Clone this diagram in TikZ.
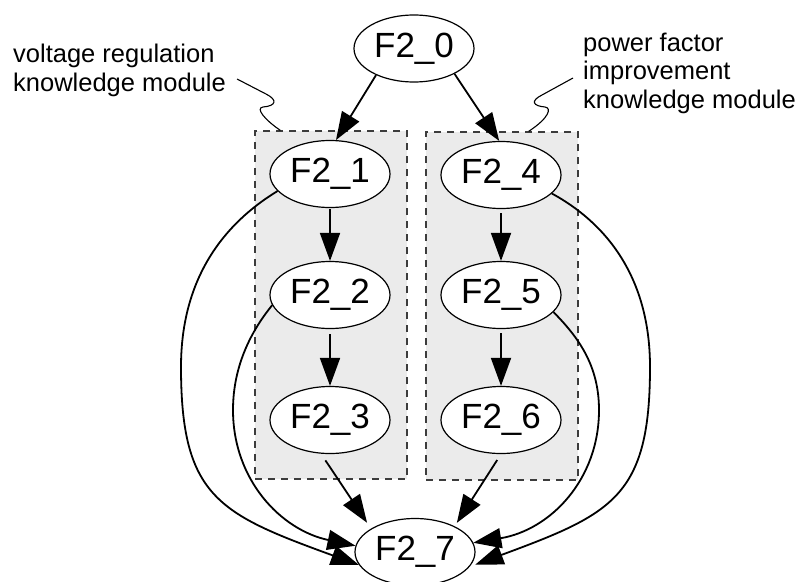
\documentclass[tikz,border=0pt]{standalone}
\usepackage{fontspec}
\setmainfont{Liberation Sans}
\usetikzlibrary{arrows.meta,shapes.geometric}
\definecolor{boxfill}{RGB}{235,235,235}
\definecolor{boxline}{RGB}{60,60,60}
\begin{document}
\begin{tikzpicture}[x=1pt,y=1pt,
  state/.style={ellipse, draw, line width=1.2pt, fill=white,
    minimum width=120pt, minimum height=67pt, inner sep=0pt,
    font=\fontsize{35}{40}\selectfont},
  module/.style={draw=boxline, fill=boxfill, dash pattern=on 7pt off 6pt,
    line width=1.3pt, minimum width=152pt, minimum height=348pt, inner sep=0pt},
  arr/.style={-{Triangle[length=28pt,width=20pt]}, line width=1.8pt},
  note/.style={align=left, inner sep=0pt, font=\fontsize{25.5}{28.5}\selectfont},
  squiggle/.style={line width=1.1pt}]

\useasboundingbox (0,0) rectangle (800,-581);

% shaded module frames
\node[module] (modA) at (331,-305) {};
\node[module] (modB) at (502,-306) {};

% states
\node[state] (f0) at (414,-48.5) {F2\_0};
\node[state] (f1) at (330,-174) {F2\_1};
\node[state] (f2) at (330,-295) {F2\_2};
\node[state] (f3) at (330,-420) {F2\_3};
\node[state] (f4) at (501,-175) {F2\_4};
\node[state] (f5) at (501,-295) {F2\_5};
\node[state] (f6) at (501,-420) {F2\_6};
\node[state] (f7) at (415,-552) {F2\_7};

% module labels (anchored at the baseline of their last line)
\node[note, anchor=base west] (noteA) at (13,-91) {voltage regulation\\knowledge module};
\node[note, anchor=base west] (noteB) at (583,-108.3) {power factor\\improvement\\knowledge module};

\coordinate (tailA) at (237,-79);
\coordinate (tailB) at (573,-78);
\draw[squiggle] (tailA) -- (266,-94) .. controls (278,-100) and (276,-106) .. (263,-107)
  .. controls (255,-108) and (265,-120) .. ([xshift=26pt]modA.north west);
\draw[squiggle] (tailB) -- (542,-95) .. controls (530,-101) and (533,-106) .. (545,-107)
  .. controls (552,-108) and (549,-118) .. ([xshift=-50pt]modB.north east);

% straight edges
\draw[arr] (f0.215) -- (f1.80);
\draw[arr] (f0.328) -- (f4.93);
\draw[arr, shorten <=1pt] (f1) -- (f2);
\draw[arr, shorten <=5pt] (f2) -- (f3);
\draw[arr, shorten <=4pt] (f4) -- (f5);
\draw[arr, shorten <=4pt] (f5) -- (f6);
\draw[arr, shorten <=8pt, shorten >=7pt] (f3.255) -- (f7.152);
\draw[arr, shorten <=7pt, shorten >=4pt] (f6.270) -- (f7.33);

% bypass edges
\draw[arr] (f1.198) .. controls (225,-223) and (181,-277) .. (181,-367)
  .. controls (181,-497) and (219,-514) .. (f7.193);
\draw[arr] (f2.190) .. controls (252,-330) and (233,-365) .. (233,-410)
  .. controls (233,-480) and (281,-530) .. (f7.174);
\draw[arr, shorten >=6pt] (f4.340) .. controls (606,-223) and (650,-277) .. (650,-367)
  .. controls (650,-497) and (612,-514) .. (f7.345);
\draw[arr] (f5.342) .. controls (578,-337) and (599,-365) .. (599,-410)
  .. controls (599,-480) and (550,-530) .. (f7.9);
\end{tikzpicture}
\end{document}
